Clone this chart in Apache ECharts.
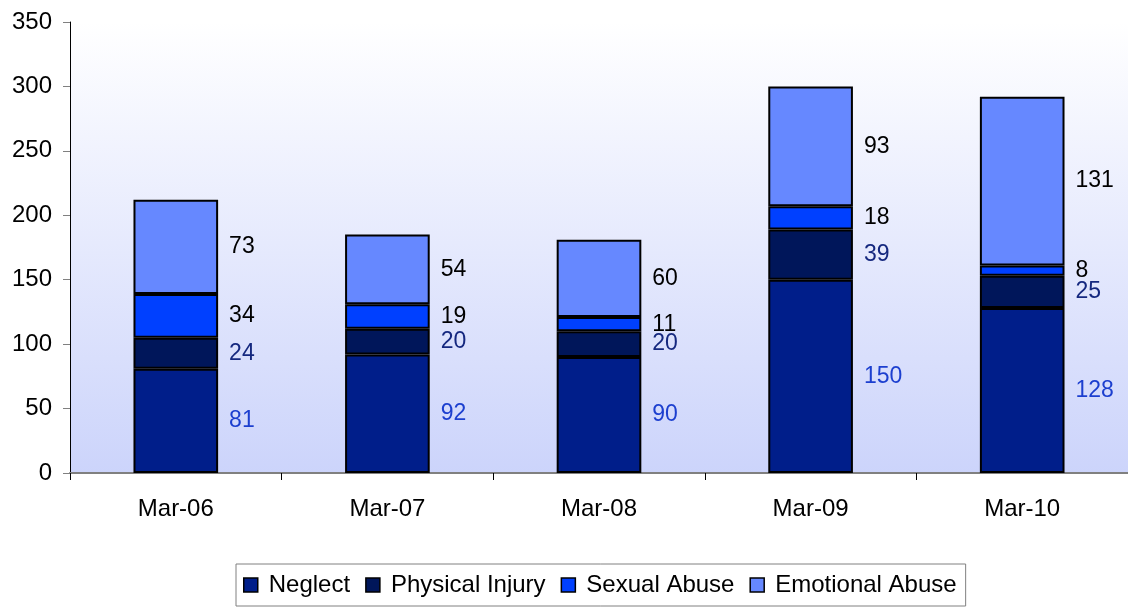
<!DOCTYPE html>
<html><head><meta charset="utf-8">
<script src="https://cdn.jsdelivr.net/npm/echarts@6/dist/echarts.min.js"></script>
<style>html,body{margin:0;padding:0;background:#fff}#c{width:1128px;height:608px}</style>
</head><body><div id="c"></div>
<script>
const categories = ['Mar-06','Mar-07','Mar-08','Mar-09','Mar-10'];
const neglect = [81, 92, 90, 150, 128];
const physicalInjury = [24, 20, 20, 39, 25];
const sexualAbuse = [34, 19, 11, 18, 8];
const emotionalAbuse = [73, 54, 60, 93, 131];
const yTicks = [0, 50, 100, 150, 200, 250, 300, 350];

const FONT = 'Liberation Sans, Arial, sans-serif';
function mk(name, data, color, labelColor) {
  return {
    name, type: 'bar', stack: 'total', data, barWidth: '40%',
    itemStyle: { color, borderColor: '#000', borderWidth: 2 },
    label: { show: true, position: 'right', distance: 11, color: labelColor,
      fontFamily: FONT, fontSize: 23 }
  };
}
const chart = echarts.init(document.getElementById('c'), null, {renderer:'canvas'});
chart.setOption({
  animation: false,
  grid: { left: 70, right: -12, top: 22, bottom: 135, show: true, borderWidth: 0,
    backgroundColor: { type: 'linear', x: 0, y: 0, x2: 0, y2: 1,
      colorStops: [{offset: 0, color: '#ffffff'}, {offset: 1, color: '#ccd4fb'}] } },
  xAxis: { type: 'category', data: categories,
    axisLine: { lineStyle: { color: '#808080', width: 2 } },
    axisTick: { show: true, length: 7, lineStyle: { color: '#000' } },
    axisLabel: { color: '#000', fontFamily: FONT, fontSize: 24, margin: 24 } },
  yAxis: { type: 'value', min: 0, max: 350, interval: 50,
    axisLine: { show: true, lineStyle: { color: '#000', width: 1 } },
    axisTick: { show: true, length: 7, lineStyle: { color: '#808080' } },
    splitLine: { show: false },
    axisLabel: { color: '#000', fontFamily: FONT, fontSize: 24, margin: 18,
      formatter: v => yTicks.includes(v) ? String(v) : '' } },
  legend: { bottom: 2, left: 236, itemWidth: 14, itemHeight: 14, itemGap: 15,
    icon: 'rect', borderColor: '#808080', borderWidth: 1, padding: [9, 9, 9, 7],
    textStyle: { fontFamily: FONT, fontSize: 24, color: '#000', padding: [0, 0, 0, 6] },
    itemStyle: { borderColor: '#000', borderWidth: 1.5 } },
  series: [
    mk('Neglect', neglect, '#001e8a', '#1c3fcf'),
    mk('Physical Injury', physicalInjury, '#00165a', '#15287f'),
    mk('Sexual Abuse', sexualAbuse, '#0040ff', '#000'),
    mk('Emotional Abuse', emotionalAbuse, '#6688ff', '#000')
  ]
});
</script></body></html>
